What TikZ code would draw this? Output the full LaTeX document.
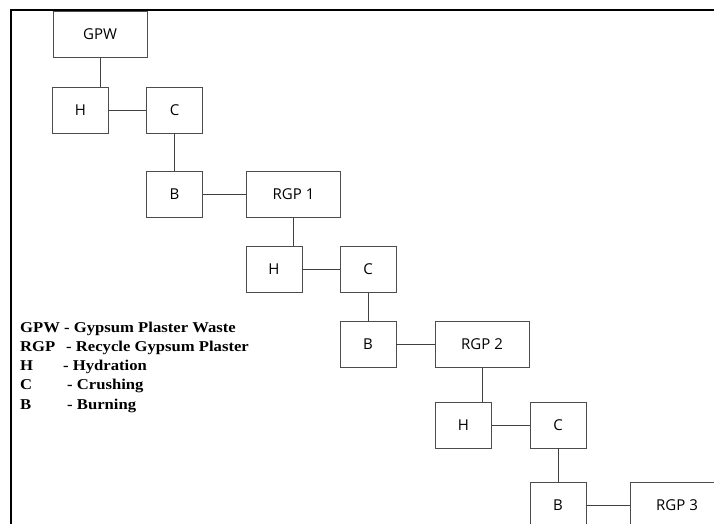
\documentclass[tikz,border=0pt]{standalone}
\usepackage{fontspec}
\usepackage{graphicx}
\setmainfont{Liberation Serif}
\newfontfamily\boxfont{Open Sans}
\usetikzlibrary{positioning}

\tikzset{
    stepnode/.style={draw=black!70, line width=0.8pt, inner sep=0pt,
        minimum width=56pt, minimum height=46pt,
        font=\boxfont\fontsize{15pt}{18pt}\selectfont},
    rgpnode/.style={stepnode, minimum width=94pt},
    link/.style={draw=black!75, line width=0.8pt},
    legend/.style={anchor=base west, inner sep=0pt,
        font=\bfseries\fontsize{15pt}{18pt}\selectfont}
}

\newcommand{\legtext}[1]{\scalebox{1.11}[1]{#1}}

\begin{document}
\begin{tikzpicture}[x=1pt, y=-1pt]

    % === 画布与边框 ===
    \clip (0,0) rectangle (714,524);
    \draw[line width=2pt] (11,524) -- (11,10) -- (714,10);

    % === 第一轮 ===
    \node[rgpnode]  (gpw) at (100,34.5) {GPW};
    \node[stepnode] (h1)  at (80.5,110) {H};
    \node[stepnode] (c1)  at (174.5,110) {C};
    \node[stepnode] (b1)  at (174.5,194) {B};
    \node[rgpnode]  (rgp1) at (293.5,194) {RGP 1};

    % === 第二轮 ===
    \node[stepnode] (h2)  at (274,269.5) {H};
    \node[stepnode] (c2)  at (368,269.5) {C};
    \node[stepnode] (b2)  at (368,344.5) {B};
    \node[rgpnode]  (rgp2) at (482,344.5) {RGP 2};

    % === 第三轮 ===
    \node[stepnode] (h3)  at (463.5,425) {H};
    \node[stepnode] (c3)  at (558,425) {C};
    \node[stepnode] (b3)  at (558,505) {B};
    \node[rgpnode]  (rgp3) at (677,505) {RGP 3};

    % === 连线 ===
    \draw[link] (gpw.south) -- (gpw.south |- h1.north);
    \draw[link] (h1) -- (c1);
    \draw[link] (c1.south) -- (b1.north);
    \draw[link] (b1) -- (rgp1);

    \draw[link] (rgp1.south) -- (rgp1.south |- h2.north);
    \draw[link] (h2) -- (c2);
    \draw[link] (c2) -- (b2);
    \draw[link] (b2) -- (rgp2);

    \draw[link] (rgp2.south) -- (rgp2.south |- h3.north);
    \draw[link] (h3) -- (c3);
    \draw[link] (c3) -- (b3);
    \draw[link] (b3) -- (rgp3);

    % === 图例 ===
    \node[legend] (kgpw) at (20,332.3) {\legtext{GPW}};
    \node[legend] (dgpw) at (64,332.3) {\legtext{- Gypsum Plaster Waste}};
    \node[legend] (krgp) at (20,351.5) {\legtext{RGP}};
    \node[legend] (drgp) at (66,351.5) {\legtext{- Recycle Gypsum Plaster}};
    \node[legend] (kh)   at (20,370.7) {\legtext{H}};
    \node[legend] (dh)   at (63,370.7) {\legtext{- Hydration}};
    \node[legend] (kc)   at (20,389.9) {\legtext{C}};
    \node[legend] (dc)   at (67,389.9) {\legtext{- Crushing}};
    \node[legend] (kb)   at (20,409.1) {\legtext{B}};
    \node[legend] (db)   at (67,409.1) {\legtext{- Burning}};

\end{tikzpicture}
\end{document}
